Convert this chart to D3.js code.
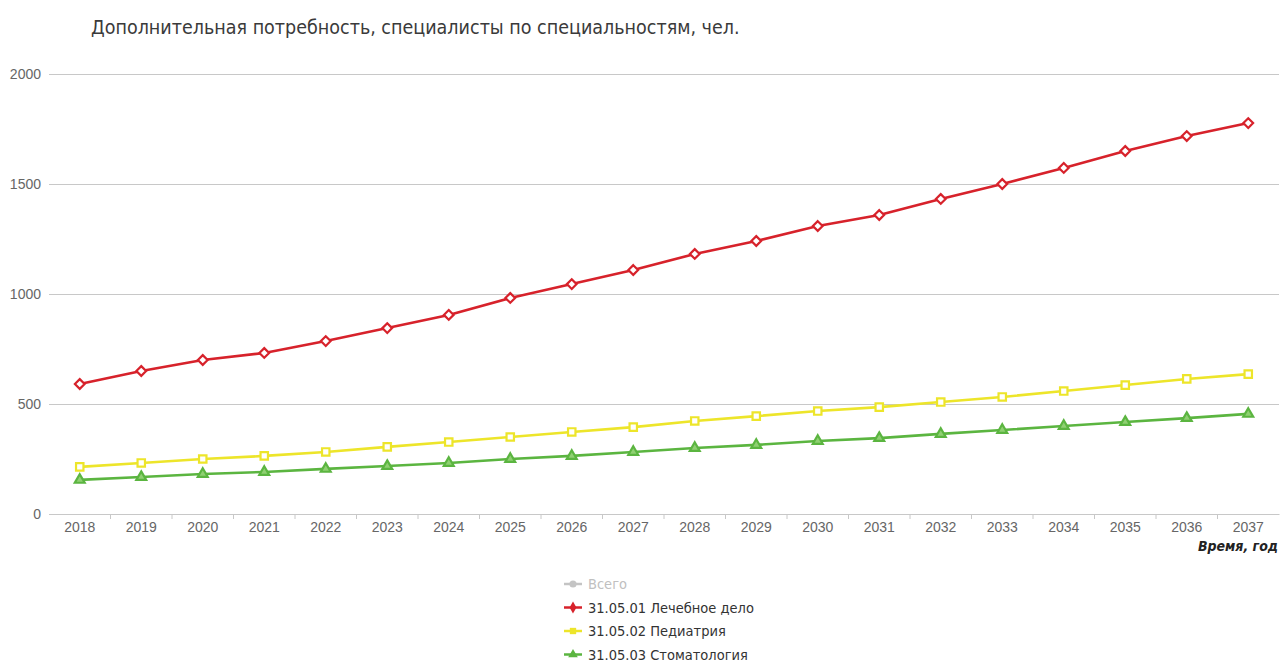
<!DOCTYPE html>
<html><head><meta charset="utf-8">
<script src="https://cdn.jsdelivr.net/npm/d3@7"></script>
<style>
html,body{margin:0;padding:0;background:#fff;}
svg{display:block;font-family:"DejaVu Sans Condensed","DejaVu Sans",sans-serif;}
</style></head>
<body>
<svg id="chart" width="1280" height="666"></svg>
<script>
const years = ["2018","2019","2020","2021","2022","2023","2024","2025","2026","2027","2028","2029","2030","2031","2032","2033","2034","2035","2036","2037"];
const lechebnoe = [591,650,700,732,786,845,905,982,1045,1109,1182,1241,1309,1359,1432,1500,1573,1650,1718,1777];
const pediatria = [214,232,250,264,282,305,327,350,373,395,423,445,468,486,509,532,559,586,614,636];
const stomatologia = [155,168,182,191,205,218,232,250,264,282,300,314,332,345,364,382,400,418,436,455];
const yTicks = [0,500,1000,1500,2000];
const seriesNames = ["Всего","31.05.01 Лечебное дело","31.05.02 Педиатрия","31.05.03 Стоматология"];
const titleText = "Дополнительная потребность, специалисты по специальностям, чел.";
const xAxisTitle = "Время, год";

const series = [
  {name: seriesNames[1], values: lechebnoe, color: "#d7222b", symbol: d3.symbolDiamond2, fill:"#fff", size: 60},
  {name: seriesNames[2], values: pediatria, color: "#ede52a", symbol: d3.symbolSquare2, fill:"#fff", size: 70},
  {name: seriesNames[3], values: stomatologia, color: "#5bb540", symbol: d3.symbolTriangle2, fill:"#8fd072", size: 70}
];

const svg = d3.select("#chart");
const pLeft = 49, pRight = 1279, pTop = 74, pBottom = 514;

const x = d3.scaleBand().domain(years).range([pLeft, pRight]);
const y = d3.scaleLinear().domain([0, 2000]).range([pBottom, pTop]);

svg.append("text").attr("x", 91).attr("y", 34).attr("font-size", 19.5)
  .attr("fill", "#3a3a3a").text(titleText);

// grid
const yAxis = svg.append("g").attr("transform", `translate(${pLeft},0)`)
  .call(d3.axisLeft(y).tickValues(yTicks).tickSize(-(pRight-pLeft)).tickPadding(10).tickFormat(d3.format("d")));
yAxis.select(".domain").remove();
yAxis.selectAll(".tick line").attr("stroke", "#c8c8c8").attr("stroke-width", 1.2);
yAxis.selectAll(".tick text").attr("fill", "#666").attr("font-size", 14).attr("x", -8);

// x axis
const xAxis = svg.append("g").attr("transform", `translate(0,${pBottom})`)
  .call(d3.axisBottom(x).tickSize(0).tickPadding(8));
xAxis.select(".domain").attr("stroke", "#c8c8c8").attr("stroke-width", 1.2);
xAxis.selectAll(".tick text").attr("fill", "#666").attr("font-size", 14);
xAxis.selectAll(".sep").data(years.slice(1)).enter().append("line")
  .attr("x1", d => x(d)).attr("x2", d => x(d)).attr("y1", 0).attr("y2", 5)
  .attr("stroke", "#c8c8c8").attr("stroke-width", 1);

svg.append("text").attr("x", 1278).attr("y", 551).attr("text-anchor", "end")
  .attr("font-size", 14).attr("font-weight", "bold").attr("font-style", "italic")
  .attr("fill", "#222").text(xAxisTitle);

const line = d3.line().x((d,i) => x(years[i]) + x.bandwidth()/2).y(d => y(d));
series.forEach(s => {
  const g = svg.append("g");
  g.append("path").attr("d", line(s.values)).attr("fill", "none")
    .attr("stroke", s.color).attr("stroke-width", 2.6).attr("stroke-linejoin", "round");
  g.selectAll("path.m").data(s.values).enter().append("path").attr("class", "m")
    .attr("d", d3.symbol().type(s.symbol).size(s.size))
    .attr("transform", (d,i) => `translate(${x(years[i]) + x.bandwidth()/2},${y(d)})`)
    .attr("fill", s.fill).attr("stroke", s.color).attr("stroke-width", 2.2);
});

// legend
const legendItems = [
  {name: seriesNames[0], color: "#c4c4c4", symbol: d3.symbolCircle},
  {name: seriesNames[1], color: "#d7222b", symbol: d3.symbolDiamond},
  {name: seriesNames[2], color: "#ede52a", symbol: d3.symbolSquare},
  {name: seriesNames[3], color: "#5bb540", symbol: d3.symbolTriangle}
];
const lg = svg.append("g").attr("transform", "translate(564,584)");
legendItems.forEach((it, i) => {
  const row = lg.append("g").attr("transform", `translate(0,${i*23.5})`);
  row.append("line").attr("x1", 0).attr("x2", 18).attr("y1", 0).attr("y2", 0)
    .attr("stroke", it.color).attr("stroke-width", 2.5);
  row.append("path").attr("d", d3.symbol().type(it.symbol).size(40)).attr("transform", "translate(9,0)")
    .attr("fill", it.color);
  row.append("text").attr("x", 24).attr("y", 5).attr("font-size", 14.5)
    .attr("fill", i === 0 ? "#c0c0c0" : "#333").text(it.name);
});
</script>
</body></html>
